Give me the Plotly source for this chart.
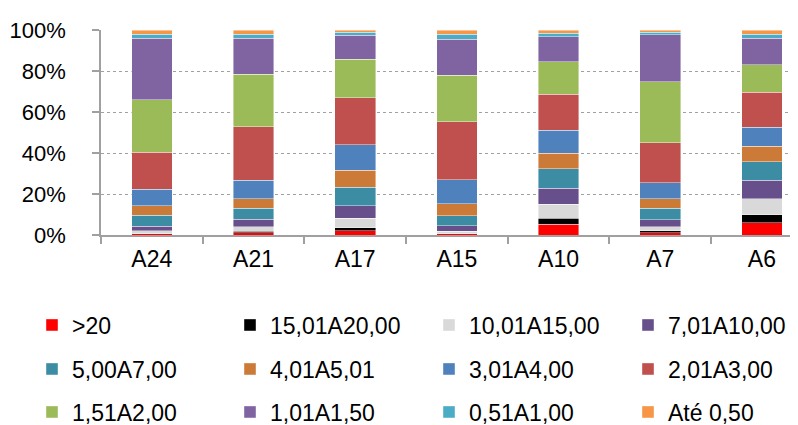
import plotly.graph_objects as go

categories = ["A24", "A21", "A17", "A15", "A10", "A7", "A6"]

series_names = [">20", "15,01A20,00", "10,01A15,00", "7,01A10,00",
                "5,00A7,00", "4,01A5,01", "3,01A4,00", "2,01A3,00",
                "1,51A2,00", "1,01A1,50", "0,51A1,00", "Até 0,50"]

gt20      = [0.5, 1.0, 2.0, 0.6, 5.2, 1.0, 5.9]
r15_20    = [0.0, 0.8, 1.6, 0.0, 2.9, 1.0, 3.9]
r10_15    = [1.5, 2.3, 4.6, 1.3, 7.0, 2.1, 7.8]
r7_10     = [2.3, 3.6, 6.0, 2.6, 7.8, 3.4, 9.1]
r5_7      = [5.2, 5.4, 9.1, 4.9, 9.3, 5.5, 9.1]
r4_5      = [4.7, 4.6, 8.3, 5.9, 7.7, 4.7, 7.5]
r3_4      = [8.0, 8.8, 12.4, 11.6, 11.1, 7.7, 9.1]
r2_3      = [18.1, 26.1, 22.8, 28.4, 17.6, 19.6, 17.1]
r151_2    = [25.6, 25.6, 18.8, 22.7, 15.8, 29.7, 13.4]
r101_150  = [29.7, 17.3, 11.7, 17.5, 12.1, 22.8, 12.9]
r051_1    = [2.0, 2.0, 1.6, 2.4, 1.8, 1.3, 2.0]
ate050    = [2.1, 2.1, 1.0, 2.1, 1.6, 1.1, 2.1]

series_values = [gt20, r15_20, r10_15, r7_10, r5_7, r4_5, r3_4, r2_3,
                 r151_2, r101_150, r051_1, ate050]

colors = ["#FF0000", "#000000", "#D9D9D9", "#664F8A", "#3C8DA3", "#CC7A38",
          "#4F81BD", "#C0504D", "#9BBB59", "#8064A2", "#4BACC6", "#F79646"]

FONT = "Liberation Sans, Arial, sans-serif"

col_x = [24, 222, 421, 620]
row_y = [317, 361, 404]

fig = go.Figure()
legend_layouts = {}
for i, (name, vals, col) in enumerate(zip(series_names, series_values, colors)):
    lid = "legend" if i == 0 else f"legend{i + 1}"
    fig.add_trace(go.Bar(
        x=categories, y=vals, name=name,
        marker=dict(color=col, line=dict(color="rgba(255,255,255,0.7)", width=0.6)),
        legend=lid,
    ))
    legend_layouts[lid] = dict(
        orientation="h", xref="container", yref="container",
        x=col_x[i % 4] / 798, y=1 - row_y[i // 4] / 425,
        xanchor="left", yanchor="middle",
        bgcolor="rgba(0,0,0,0)",
        font=dict(family=FONT, size=23, color="#000000"),
        itemclick=False, itemdoubleclick=False,
    )

fig.update_layout(
    width=798, height=425,
    margin=dict(l=93, r=0, t=22, b=198),
    barmode="stack", barnorm="percent", bargap=0.6,
    plot_bgcolor="white", paper_bgcolor="white",
    showlegend=True,
    xaxis=dict(
        range=[-0.5, 6.434], showline=True, linecolor="#A0A0A0", linewidth=1.5,
        ticks="outside", tickson="boundaries", ticklen=7, tickcolor="#A0A0A0",
        tickwidth=1.5, showgrid=False,
        tickfont=dict(family=FONT, size=23, color="#000000"),
        ticklabelstandoff=3,
    ),
    yaxis=dict(
        range=[0, 100], dtick=20, ticksuffix="%", showline=True,
        linecolor="#A0A0A0", linewidth=1.5, ticks="outside", ticklen=7,
        tickcolor="#A0A0A0", tickwidth=1.5, showgrid=True, gridcolor="#A0A0A0",
        griddash="dot", gridwidth=1.3, zeroline=False,
        tickfont=dict(family=FONT, size=22, color="#000000"),
        ticklabelstandoff=22,
    ),
    **legend_layouts,
)

fig.write_html("out.html")
